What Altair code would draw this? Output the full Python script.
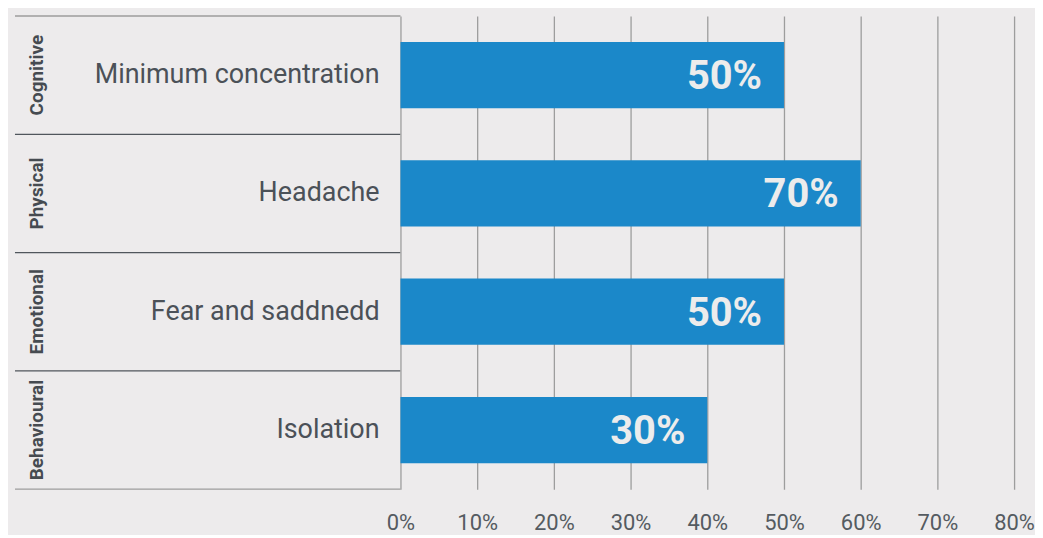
import altair as alt
import pandas as pd

groups = ["Cognitive", "Physical", "Emotional", "Behavioural"]
items = ["Minimum concentration", "Headache", "Fear and saddnedd", "Isolation"]
bar_values = [50, 60, 50, 40]
value_labels = ["50%", "70%", "50%", "30%"]
x_ticks = [0, 10, 20, 30, 40, 50, 60, 70, 80]

df = pd.DataFrame({
    "group": groups,
    "item": items,
    "value": bar_values,
    "label": value_labels,
    "order": list(range(len(groups))),
})

BG = "#edebec"
BAR = "#1b88c9"
GRID = "#9d9d9d"
DARK = "#50565c"
FONT = "Roboto"

H = 475
LW = 387
RW = 616

left_scale = alt.Scale(paddingInner=0, paddingOuter=0)
y_left = alt.Y("group:N", sort=groups, axis=None, scale=left_scale)

base_l = alt.Chart(df)

seps = base_l.mark_rule(color=DARK, strokeWidth=1.3).encode(
    y=alt.Y("group:N", sort=groups, axis=None, scale=left_scale, bandPosition=0),
    x=alt.value(0), x2=alt.value(LW),
).transform_filter(alt.datum.order > 0)

frame_top = base_l.mark_rule(color=GRID, strokeWidth=1.3).encode(
    x=alt.value(0), x2=alt.value(LW), y=alt.value(0)
).transform_filter(alt.datum.order == 0)

frame_bot = base_l.mark_rule(color=GRID, strokeWidth=1.3).encode(
    x=alt.value(0), x2=alt.value(LW), y=alt.value(H)
).transform_filter(alt.datum.order == 0)

items_txt = base_l.mark_text(
    align="right", baseline="middle", font=FONT, fontSize=27, color="#4b5158"
).encode(y=y_left, x=alt.value(LW - 21), text="item:N")

grp_txt = base_l.mark_text(
    angle=270, align="center", baseline="middle", font=FONT, fontSize=19,
    fontWeight="bold", color="#464b51"
).encode(y=y_left, x=alt.value(22), text="group:N")

left = alt.layer(frame_top, frame_bot, seps, items_txt, grp_txt).properties(width=LW, height=H)

x_enc = alt.X(
    "value:Q",
    scale=alt.Scale(domain=[0, 80], nice=False),
    axis=alt.Axis(
        values=x_ticks, labelExpr="datum.value + '%'", grid=True, gridColor=GRID,
        gridWidth=1.3, domain=False, ticks=False, labelFont=FONT, labelFontSize=22,
        labelColor="#555b61", labelPadding=24, labelFlush=False, labelOverlap=False,
        title=None,
    ),
)
y_right = alt.Y("group:N", sort=groups, axis=None,
                scale=alt.Scale(paddingInner=0.44, paddingOuter=0.22))

bars = alt.Chart(df).mark_bar(color=BAR).encode(x=x_enc, y=y_right)
lbls = alt.Chart(df).mark_text(
    align="right", baseline="middle", dx=-22, dy=2, font=FONT, fontSize=40,
    fontWeight="bold", color="#ececec"
).encode(x="value:Q", y=y_right, text="label:N")

right = alt.layer(bars, lbls).properties(width=RW, height=H)

chart = alt.hconcat(left, right, spacing=0, bounds="flush").resolve_scale(
    y="independent", x="independent"
).properties(
    background=BG, padding={"left": 6, "top": 6, "right": 0, "bottom": 0}
).configure_view(stroke=None)

chart.save("out.html", embed_options={"renderer": "svg", "actions": False})
